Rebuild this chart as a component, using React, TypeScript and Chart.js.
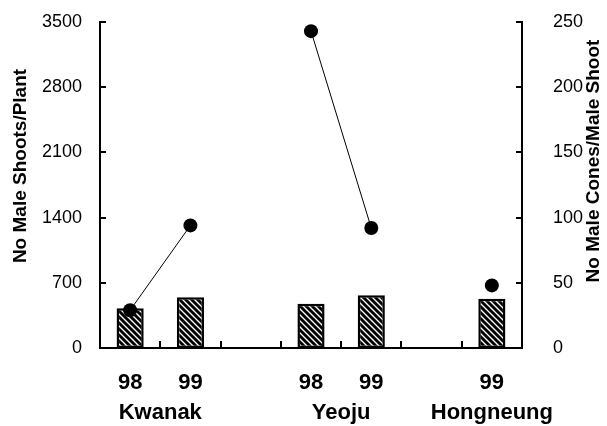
import React, { useEffect, useRef } from 'react';
import { Chart, registerables } from 'chart.js';

Chart.register(...registerables);

// ---- data ----
const yearLabels: string[] = ['98', '99', '', '98', '99', '', '99'];
const siteNames: string[] = ['Kwanak', 'Yeoju', 'Hongneung'];
const siteSlots: number[][] = [[0, 1], [3, 4], [6]];
const maleShootsPerPlant: (number | null)[] = [426, 545, null, 476, 566, null, 530];
const maleConesPerShoot: (number | null)[] = [29, 94, null, 243, 92, null, 48];
const leftMax = 3500;
const leftStep = 700;
const rightMax = 250;
const rightStep = 50;
const leftTitle = 'No Male Shoots/Plant';
const rightTitle = 'No Male Cones/Male Shoot';

const FONT = '"Liberation Sans", Arial, Helvetica, sans-serif';

function makeHatch(): CanvasPattern | string {
  const s = 6;
  const c = document.createElement('canvas');
  c.width = s;
  c.height = s;
  const g = c.getContext('2d');
  if (!g) return '#000';
  g.fillStyle = '#fff';
  g.fillRect(0, 0, s, s);
  g.strokeStyle = '#000';
  g.lineWidth = 2.9;
  g.beginPath();
  for (const x0 of [-s, 0, s]) {
    g.moveTo(x0 - 1, -1);
    g.lineTo(x0 + s + 1, s + 1);
  }
  g.stroke();
  const p = g.createPattern(c, 'repeat');
  return p || '#000';
}

const decorPlugin = {
  id: 'decor',
  afterDraw(chart: any) {
    const { ctx, chartArea } = chart;
    const x = chart.scales.x;
    const y = chart.scales.y;
    const y1 = chart.scales.y1;
    const tl = 6;
    ctx.save();
    ctx.strokeStyle = '#000';
    ctx.lineWidth = 2;
    ctx.beginPath();
    y.ticks.forEach((t: any) => {
      if (t.value === 0) return;
      const py = Math.round(y.getPixelForValue(t.value));
      ctx.moveTo(chartArea.left, py);
      ctx.lineTo(chartArea.left + tl, py);
    });
    y1.ticks.forEach((t: any) => {
      if (t.value === 0) return;
      const py = Math.round(y1.getPixelForValue(t.value));
      ctx.moveTo(chartArea.right, py);
      ctx.lineTo(chartArea.right - tl, py);
    });
    for (let i = 0; i < yearLabels.length - 1; i++) {
      const px = Math.round((x.getPixelForValue(i) + x.getPixelForValue(i + 1)) / 2);
      ctx.moveTo(px, chartArea.bottom);
      ctx.lineTo(px, chartArea.bottom - tl - 1);
    }
    ctx.stroke();

    ctx.fillStyle = '#000';
    ctx.font = `bold 22px ${FONT}`;
    ctx.textAlign = 'center';
    ctx.textBaseline = 'middle';
    siteNames.forEach((name, i) => {
      const slots = siteSlots[i];
      const px = slots.reduce((a, s) => a + x.getPixelForValue(s), 0) / slots.length;
      ctx.fillText(name, px, chartArea.bottom + 65);
    });

    const mid = (chartArea.top + chartArea.bottom) / 2;
    ctx.font = `bold 19px ${FONT}`;
    ctx.save();
    ctx.translate(chartArea.left - 79, mid - 19);
    ctx.rotate(-Math.PI / 2);
    ctx.fillText(leftTitle, 0, 0);
    ctx.restore();
    ctx.save();
    ctx.translate(chartArea.right + 72, mid - 24);
    ctx.rotate(-Math.PI / 2);
    ctx.fillText(rightTitle, 0, 0);
    ctx.restore();
    ctx.restore();
  },
};

export default function App() {
  const ref = useRef<HTMLCanvasElement | null>(null);

  useEffect(() => {
    document.body.style.margin = '0';
    const canvas = ref.current;
    if (!canvas) return;
    const hatch = makeHatch();
    const chart = new Chart(canvas, {
      type: 'bar',
      data: {
        labels: yearLabels,
        datasets: [
          {
            type: 'line',
            label: rightTitle,
            data: maleConesPerShoot,
            yAxisID: 'y1',
            borderColor: '#000',
            borderWidth: 1,
            backgroundColor: '#000',
            pointRadius: 7,
            pointBackgroundColor: '#000',
            pointBorderColor: '#000',
            pointBorderWidth: 0,
            spanGaps: false,
            order: 0,
          } as any,
          {
            type: 'bar',
            label: leftTitle,
            data: maleShootsPerPlant,
            yAxisID: 'y',
            backgroundColor: hatch as any,
            borderColor: '#000',
            borderWidth: 2.5,
            borderSkipped: false,
            barPercentage: 0.9,
            categoryPercentage: 0.5,
            order: 1,
          } as any,
        ],
      },
      options: {
        responsive: false,
        animation: false,
        events: [],
        layout: { padding: { top: 22, left: 0, right: 0, bottom: 0 } },
        plugins: {
          legend: { display: false },
          tooltip: { enabled: false },
          title: { display: false },
        },
        scales: {
          x: {
            type: 'category',
            offset: true,
            grid: { display: false, drawTicks: false },
            border: { display: true, color: '#000', width: 2 },
            ticks: {
              color: '#000',
              font: { family: FONT, size: 22, weight: 'bold' },
              padding: 22,
              maxRotation: 0,
              autoSkip: false,
            },
            afterFit: (s: any) => {
              s.height = 78;
            },
          },
          y: {
            type: 'linear',
            position: 'left',
            min: 0,
            max: leftMax,
            grid: { display: false, drawTicks: false },
            border: { display: true, color: '#000', width: 2 },
            ticks: {
              stepSize: leftStep,
              color: '#000',
              font: { family: FONT, size: 18 },
              padding: 18,
              callback: (v: any) => String(v),
            },
            afterFit: (s: any) => {
              s.width = 100;
              s.paddingTop = 0;
              s.paddingBottom = 0;
            },
          },
          y1: {
            type: 'linear',
            position: 'right',
            min: 0,
            max: rightMax,
            grid: { display: false, drawTicks: false },
            border: { display: true, color: '#000', width: 2 },
            ticks: {
              stepSize: rightStep,
              color: '#000',
              font: { family: FONT, size: 18 },
              padding: 31,
              callback: (v: any) => String(v),
            },
            afterFit: (s: any) => {
              s.width = 85;
              s.paddingTop = 0;
              s.paddingBottom = 0;
            },
          },
        },
      } as any,
      plugins: [decorPlugin],
    });
    return () => chart.destroy();
  }, []);

  return (
    <div style={{ width: 607, height: 426, background: '#fff' }}>
      <canvas ref={ref} width={607} height={426} style={{ display: 'block' }} />
    </div>
  );
}
